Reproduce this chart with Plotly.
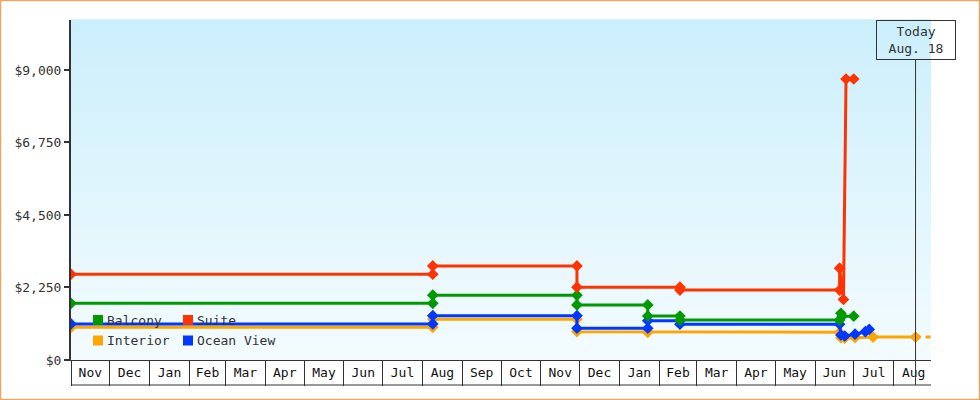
import plotly.graph_objects as go

# cabin price history
suite_dates = ["2022-11-01", "2023-08-09", "2023-08-09", "2023-11-29", "2023-11-29",
               "2024-02-17", "2024-02-17", "2024-06-20", "2024-06-20", "2024-06-23",
               "2024-06-25", "2024-07-01"]
suite_prices = [2660, 2660, 2920, 2920, 2260, 2260, 2170, 2170, 2850, 1880, 8720, 8720]

balcony_dates = ["2022-11-01", "2023-08-09", "2023-08-09", "2023-11-29", "2023-11-29",
                 "2024-01-23", "2024-01-23", "2024-02-17", "2024-02-17", "2024-06-20",
                 "2024-06-21", "2024-06-22", "2024-07-01"]
balcony_prices = [1760, 1760, 2010, 2010, 1710, 1710, 1365, 1365, 1240, 1240, 1450, 1360, 1360]

ocean_dates = ["2022-11-01", "2023-08-09", "2023-08-09", "2023-11-29", "2023-11-29",
               "2024-01-23", "2024-01-23", "2024-02-17", "2024-02-17", "2024-06-20",
               "2024-06-21", "2024-06-24", "2024-07-02", "2024-07-10", "2024-07-13"]
ocean_prices = [1120, 1120, 1375, 1375, 985, 985, 1220, 1220, 1110, 1110, 775, 745, 800, 880, 950]

interior_dates = ["2022-11-01", "2023-08-09", "2023-08-09", "2023-11-29", "2023-11-29",
                  "2024-01-23", "2024-01-23", "2024-06-20", "2024-06-21", "2024-06-24",
                  "2024-07-02", "2024-07-16", "2024-08-18"]
interior_prices = [1015, 1015, 1265, 1265, 880, 880, 860, 860, 690, 680, 690, 710, 710]

# projection of the interior price past today
projection_dates = ["2024-08-18", "2024-08-31"]
projection_prices = [710, 710]

today = "2024-08-18"
today_label = "Today<br>Aug. 18"
x_range = ["2022-11-01", "2024-08-30"]
y_ticks = [0, 2250, 4500, 6750, 9000]
y_labels = ["$0", "$2,250", "$4,500", "$6,750", "$9,000"]

legend_rows = [["Balcony", "Suite"], ["Interior", "Ocean View"]]

colors = {"Balcony": "#009a00", "Suite": "#ff3300",
          "Interior": "#ffa500", "Ocean View": "#0038ff"}

W, H = 980, 400
ML, MR, MT, MB = 71, 49, 20, 40
PW, PH = W - ML - MR, H - MT - MB
FONT = "DejaVu Sans Mono"


def px_x(px):
    return (px - ML) / PW


def px_y(py):
    return (H - MB - py) / PH


fig = go.Figure()

series = [
    ("Interior", interior_dates, interior_prices),
    ("Ocean View", ocean_dates, ocean_prices),
    ("Balcony", balcony_dates, balcony_prices),
    ("Suite", suite_dates, suite_prices),
]
fig.add_trace(go.Scatter(x=projection_dates, y=projection_prices, mode="lines",
                         line=dict(color=colors["Interior"], width=3, dash="5px,5px"),
                         showlegend=False, hoverinfo="skip"))
for name, d, p in series:
    fig.add_trace(go.Scatter(x=d, y=p, mode="lines+markers", name=name,
                             line=dict(color=colors[name], width=3),
                             marker=dict(symbol="diamond", size=9, color=colors[name]),
                             showlegend=False))

# gradient plot background
n_bands = 34
top, bot = (204, 239, 252), (243, 251, 254)
shapes = []
for i in range(n_bands):
    t = i / (n_bands - 1)
    c = tuple(round(bot[k] + (top[k] - bot[k]) * t) for k in range(3))
    shapes.append(dict(type="rect", xref="x domain", yref="y domain", layer="below",
                       x0=0, x1=1, y0=i / n_bands, y1=(i + 1) / n_bands + 0.002,
                       line=dict(width=0), fillcolor="rgb(%d,%d,%d)" % c))

box_bottom = px_y(H - MB + 25)
shapes += [
    dict(type="line", xref="x domain", yref="paper", x0=0, x1=1,
         y0=box_bottom, y1=box_bottom, line=dict(color="#333", width=1)),
    dict(type="line", xref="x", yref="paper", x0=today, x1=today,
         y0=box_bottom, y1=px_y(60), line=dict(color="#333", width=1)),
    dict(type="rect", xref="paper", yref="paper", x0=px_x(0.5), x1=px_x(W - 0.5),
         y0=px_y(H - 0.5), y1=px_y(0.5), line=dict(color="#e8a860", width=1.5)),
]

# legend drawn inside the plot: coloured squares + labels, two rows
annotations = []
for r, row in enumerate(legend_rows):
    cy = 320 + r * 20.5
    for c, name in enumerate(row):
        sx = 93 + c * 90
        shapes.append(dict(type="rect", xref="paper", yref="paper",
                           x0=px_x(sx), x1=px_x(sx + 10), y0=px_y(cy + 5), y1=px_y(cy - 5),
                           line=dict(width=0), fillcolor=colors[name]))
        annotations.append(dict(x=px_x(sx + 12), y=px_y(cy), xref="paper", yref="paper",
                                xanchor="left", yanchor="middle", showarrow=False,
                                text=name, font=dict(family=FONT, size=13, color="#333")))

annotations.append(dict(x=today, y=1, xref="x", yref="paper", yanchor="top",
                        text=today_label, showarrow=False, align="center",
                        width=74, height=34, borderpad=2, bordercolor="#333",
                        borderwidth=1, font=dict(family=FONT, size=13, color="#333")))

fig.update_layout(
    width=W, height=H,
    margin=dict(l=ML, r=MR, t=MT, b=MB),
    paper_bgcolor="white",
    plot_bgcolor="white",
    showlegend=False,
    font=dict(family=FONT, size=13, color="#333"),
    shapes=shapes,
    annotations=annotations,
    xaxis=dict(type="date", range=x_range, dtick="M1", tick0="2022-11-01",
               tickformat="%b", ticklabelmode="period", ticks="outside",
               ticklen=25, tickwidth=1, tickcolor="#333", ticklabelstandoff=-25,
               showline=True, linecolor="#333", linewidth=1, showgrid=False,
               zeroline=False, tickfont=dict(family=FONT, size=13, color="#111")),
    yaxis=dict(range=[0, 10550], tickvals=y_ticks, ticktext=y_labels,
               ticks="outside", ticklen=5, tickwidth=2, tickcolor="#333",
               showline=True, linecolor="#333", linewidth=2, showgrid=False,
               zeroline=False, tickfont=dict(family=FONT, size=13, color="#333")),
    hovermode="closest",
)

fig.write_html("out.html", config={"displayModeBar": False},
               post_script="document.body.style.margin = '0';")
